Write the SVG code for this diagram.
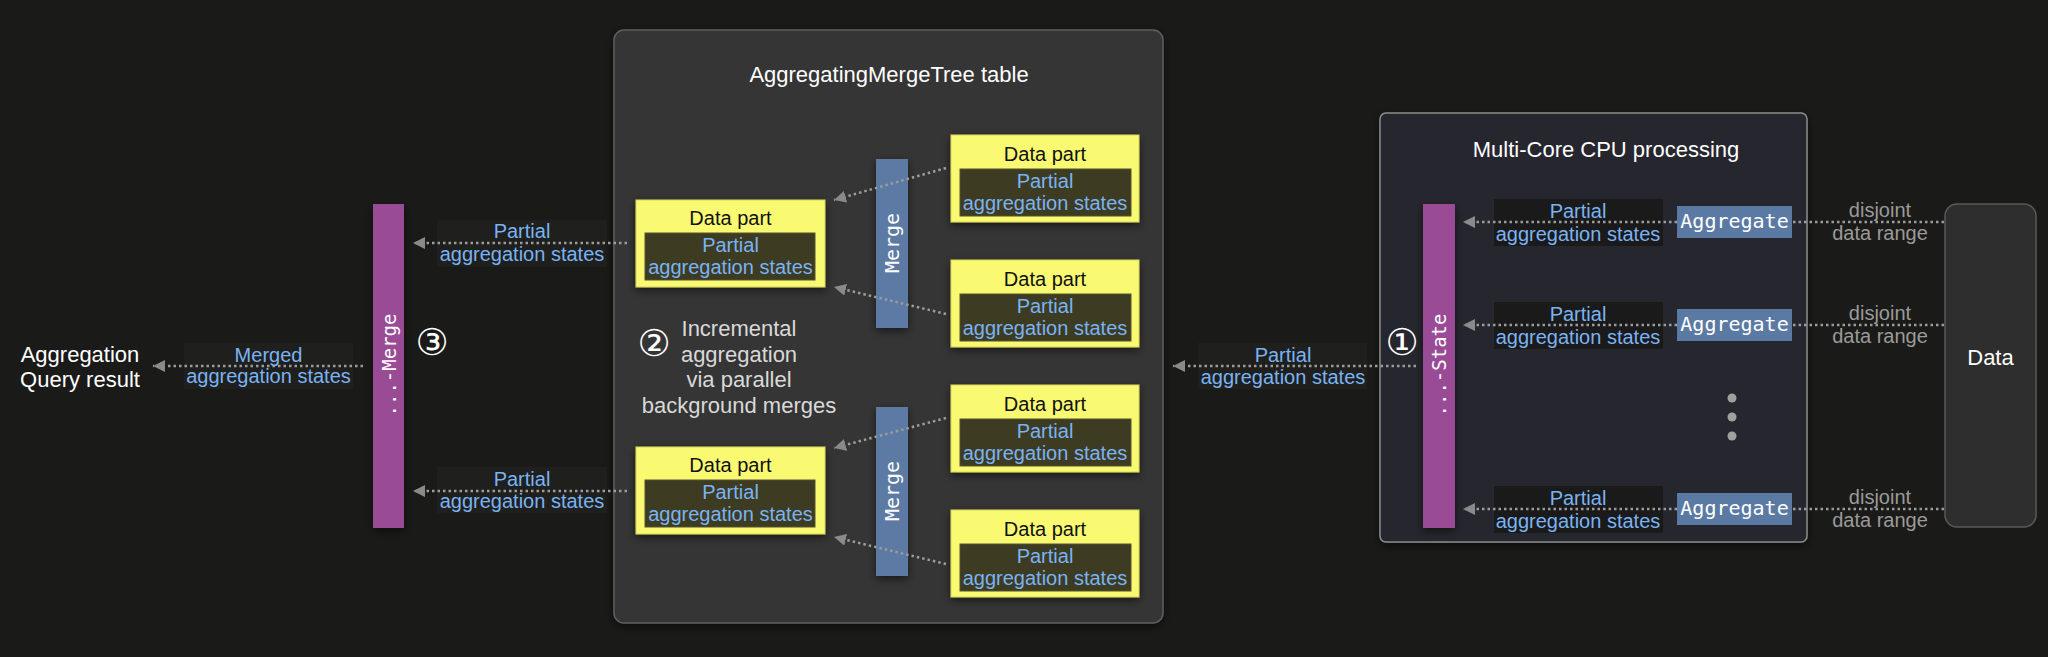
<svg xmlns="http://www.w3.org/2000/svg" width="2048" height="657" viewBox="0 0 2048 657">
<defs>
<style>
.t{font-family:"Liberation Sans",Arial,sans-serif}
.mono{font-family:"DejaVu Sans Mono","Liberation Mono",monospace;fill:#ffffff}
.lbl{font-family:"Liberation Sans",Arial,sans-serif;font-size:20px;fill:#7ab3f2;text-anchor:middle}
.gray{font-family:"Liberation Sans",Arial,sans-serif;font-size:20px;fill:#9a9a9a;text-anchor:middle}
.dp{fill:#fafa72;stroke:#d8d65a;stroke-width:1}
.dpi{fill:#3d3b22;stroke:#55532e;stroke-width:1}
.dpt{font-family:"Liberation Sans",Arial,sans-serif;font-size:20px;fill:#111111;text-anchor:middle}
.purple{fill:#994b96}
.blue{fill:#5b7aa3}
.conn{fill:none;stroke:#9c9c9c;stroke-width:2.5;stroke-dasharray:2.5 3}
.lbg{fill:#1f1f1d}
.lbgc{fill:#1a1a1a}
.num{font-family:"DejaVu Sans","Noto Sans CJK JP",sans-serif;font-size:37px;fill:#ffffff;text-anchor:middle}
</style>
<filter id="sh" x="-30%" y="-30%" width="160%" height="160%">
<feDropShadow dx="0" dy="3" stdDeviation="4" flood-color="#000000" flood-opacity="0.55"/>
</filter>
<marker id="ah" markerUnits="userSpaceOnUse" markerWidth="13" markerHeight="13" refX="12" refY="6" orient="auto">
<path d="M0,0 L12,6 L0,12 Z" fill="#8a8a8a"/>
</marker>
</defs>
<rect width="2048" height="657" fill="#1a1a18"/>

<!-- containers -->
<g id="table">
<rect x="614" y="30" width="549" height="593" rx="10" fill="#353535" stroke="#5e5e5e" stroke-width="1.5" filter="url(#sh)"/>
<text class="t" x="889" y="82" font-size="22" fill="#ffffff" text-anchor="middle">AggregatingMergeTree table</text>
</g>
<g id="cpu">
<rect x="1380" y="113" width="427" height="429" rx="6" fill="#25262d" stroke="#8c8c8c" stroke-width="1.5" filter="url(#sh)"/>
<text class="t" x="1606" y="157" font-size="22" fill="#ffffff" text-anchor="middle">Multi-Core CPU processing</text>
</g>

<!-- label backgrounds -->
<g id="label-bg">
<rect class="lbg" x="184" y="343" width="169" height="46"/>
<rect class="lbg" x="437" y="220" width="170" height="47"/>
<rect class="lbg" x="437" y="467" width="170" height="46"/>
<rect class="lbg" x="1198" y="343" width="169" height="46"/>
<rect class="lbgc" x="1494" y="199" width="169" height="47"/>
<rect class="lbgc" x="1494" y="302" width="169" height="47"/>
<rect class="lbgc" x="1494" y="486" width="169" height="47"/>
</g>

<!-- nodes -->
<g id="result">
<text class="t" x="80" y="362" font-size="22" fill="#ffffff" text-anchor="middle">Aggregation</text>
<text class="t" x="80" y="387" font-size="22" fill="#ffffff" text-anchor="middle">Query result</text>
</g>
<g id="merge-final">
<rect class="purple" x="373" y="204" width="31" height="324" filter="url(#sh)"/>
<text class="mono" font-size="19" text-anchor="middle" transform="translate(395.5,365) rotate(-90)">...-Merge</text>
</g>
<g id="step3"><text class="num" x="432" y="355">③</text></g>

<g id="dp-left-1">
<rect class="dp" x="636" y="200" width="189" height="87" filter="url(#sh)"/>
<text class="dpt" x="730.5" y="225">Data part</text>
<rect class="dpi" x="645" y="233" width="170" height="47"/>
<text class="lbl" x="730.5" y="252">Partial</text>
<text class="lbl" x="730.5" y="274">aggregation states</text>
</g>
<g id="dp-left-2">
<rect class="dp" x="636" y="447" width="189" height="87" filter="url(#sh)"/>
<text class="dpt" x="730.5" y="472">Data part</text>
<rect class="dpi" x="645" y="480" width="170" height="47"/>
<text class="lbl" x="730.5" y="499">Partial</text>
<text class="lbl" x="730.5" y="521">aggregation states</text>
</g>
<g id="merge-1">
<rect class="blue" x="876" y="159" width="32" height="169" filter="url(#sh)"/>
<text class="mono" font-size="20" text-anchor="middle" transform="translate(899,243) rotate(-90)">Merge</text>
</g>
<g id="merge-2">
<rect class="blue" x="876" y="407" width="32" height="169" filter="url(#sh)"/>
<text class="mono" font-size="20" text-anchor="middle" transform="translate(899,491) rotate(-90)">Merge</text>
</g>
<g id="dp-right-1">
<rect class="dp" x="951" y="135" width="188" height="87" filter="url(#sh)"/>
<text class="dpt" x="1045" y="161">Data part</text>
<rect class="dpi" x="960" y="169" width="171" height="47"/>
<text class="lbl" x="1045" y="188">Partial</text>
<text class="lbl" x="1045" y="210">aggregation states</text>
</g>
<g id="dp-right-2">
<rect class="dp" x="951" y="260" width="188" height="87" filter="url(#sh)"/>
<text class="dpt" x="1045" y="286">Data part</text>
<rect class="dpi" x="960" y="294" width="171" height="47"/>
<text class="lbl" x="1045" y="313">Partial</text>
<text class="lbl" x="1045" y="335">aggregation states</text>
</g>
<g id="dp-right-3">
<rect class="dp" x="951" y="385" width="188" height="87" filter="url(#sh)"/>
<text class="dpt" x="1045" y="411">Data part</text>
<rect class="dpi" x="960" y="419" width="171" height="47"/>
<text class="lbl" x="1045" y="438">Partial</text>
<text class="lbl" x="1045" y="460">aggregation states</text>
</g>
<g id="dp-right-4">
<rect class="dp" x="951" y="510" width="188" height="87" filter="url(#sh)"/>
<text class="dpt" x="1045" y="536">Data part</text>
<rect class="dpi" x="960" y="544" width="171" height="47"/>
<text class="lbl" x="1045" y="563">Partial</text>
<text class="lbl" x="1045" y="585">aggregation states</text>
</g>
<g id="step2">
<text class="num" x="654" y="356">②</text>
<text class="t" font-size="22" fill="#d9d9d9" text-anchor="middle" x="739" y="336">Incremental</text>
<text class="t" font-size="22" fill="#d9d9d9" text-anchor="middle" x="739" y="362">aggregation</text>
<text class="t" font-size="22" fill="#d9d9d9" text-anchor="middle" x="739" y="387">via parallel</text>
<text class="t" font-size="22" fill="#d9d9d9" text-anchor="middle" x="739" y="413">background merges</text>
</g>

<g id="state">
<rect class="purple" x="1423" y="204" width="32" height="324" filter="url(#sh)"/>
<text class="mono" font-size="19" text-anchor="middle" transform="translate(1446,365) rotate(-90)">...-State</text>
</g>
<g id="step1"><text class="num" x="1402" y="355">①</text></g>
<g id="aggregate-1">
<rect class="blue" x="1677" y="206" width="115" height="32"/>
<text class="mono" font-size="20" x="1734.5" y="228" text-anchor="middle">Aggregate</text>
</g>
<g id="aggregate-2">
<rect class="blue" x="1677" y="309" width="115" height="32"/>
<text class="mono" font-size="20" x="1734.5" y="331" text-anchor="middle">Aggregate</text>
</g>
<g id="aggregate-3">
<rect class="blue" x="1677" y="493" width="115" height="32"/>
<text class="mono" font-size="20" x="1734.5" y="515" text-anchor="middle">Aggregate</text>
</g>
<g id="ellipsis" fill="#a0a0a0">
<circle cx="1732" cy="398" r="4.5"/>
<circle cx="1732" cy="417" r="4.5"/>
<circle cx="1732" cy="436" r="4.5"/>
</g>
<g id="data">
<rect x="1945" y="204" width="91" height="323" rx="12" fill="#2e2e2e" stroke="#5a5a5a" stroke-width="1.5"/>
<text class="t" x="1990.5" y="365" font-size="22" fill="#ffffff" text-anchor="middle">Data</text>
</g>

<!-- connectors -->
<g id="connectors">
<line class="conn" x1="363" y1="366" x2="153" y2="366" marker-end="url(#ah)"/>
<line class="conn" x1="627" y1="243" x2="413" y2="243" marker-end="url(#ah)"/>
<line class="conn" x1="627" y1="491" x2="413" y2="491" marker-end="url(#ah)"/>
<line class="conn" x1="946" y1="168" x2="834" y2="200" marker-end="url(#ah)"/>
<line class="conn" x1="946" y1="314" x2="834" y2="287" marker-end="url(#ah)"/>
<line class="conn" x1="946" y1="418" x2="834" y2="448" marker-end="url(#ah)"/>
<line class="conn" x1="946" y1="564" x2="834" y2="537" marker-end="url(#ah)"/>
<line class="conn" x1="1416" y1="366" x2="1173" y2="366" marker-end="url(#ah)"/>
<line class="conn" x1="1677" y1="222" x2="1463" y2="222" marker-end="url(#ah)"/>
<line class="conn" x1="1677" y1="325" x2="1463" y2="325" marker-end="url(#ah)"/>
<line class="conn" x1="1677" y1="509" x2="1463" y2="509" marker-end="url(#ah)"/>
<line class="conn" x1="1944" y1="222" x2="1793" y2="222"/>
<line class="conn" x1="1944" y1="325" x2="1793" y2="325"/>
<line class="conn" x1="1944" y1="509" x2="1793" y2="509"/>
</g>

<!-- connector labels -->
<g id="labels">
<text class="lbl" x="268.5" y="362">Merged</text>
<text class="lbl" x="268.5" y="383">aggregation states</text>
<text class="lbl" x="522" y="238">Partial</text>
<text class="lbl" x="522" y="261">aggregation states</text>
<text class="lbl" x="522" y="486">Partial</text>
<text class="lbl" x="522" y="508">aggregation states</text>
<text class="lbl" x="1283" y="362">Partial</text>
<text class="lbl" x="1283" y="384">aggregation states</text>
<text class="lbl" x="1578" y="218">Partial</text>
<text class="lbl" x="1578" y="241">aggregation states</text>
<text class="lbl" x="1578" y="321">Partial</text>
<text class="lbl" x="1578" y="344">aggregation states</text>
<text class="lbl" x="1578" y="505">Partial</text>
<text class="lbl" x="1578" y="528">aggregation states</text>
<text class="gray" x="1880" y="217">disjoint</text>
<text class="gray" x="1880" y="240">data range</text>
<text class="gray" x="1880" y="320">disjoint</text>
<text class="gray" x="1880" y="343">data range</text>
<text class="gray" x="1880" y="504">disjoint</text>
<text class="gray" x="1880" y="527">data range</text>
</g>
</svg>
